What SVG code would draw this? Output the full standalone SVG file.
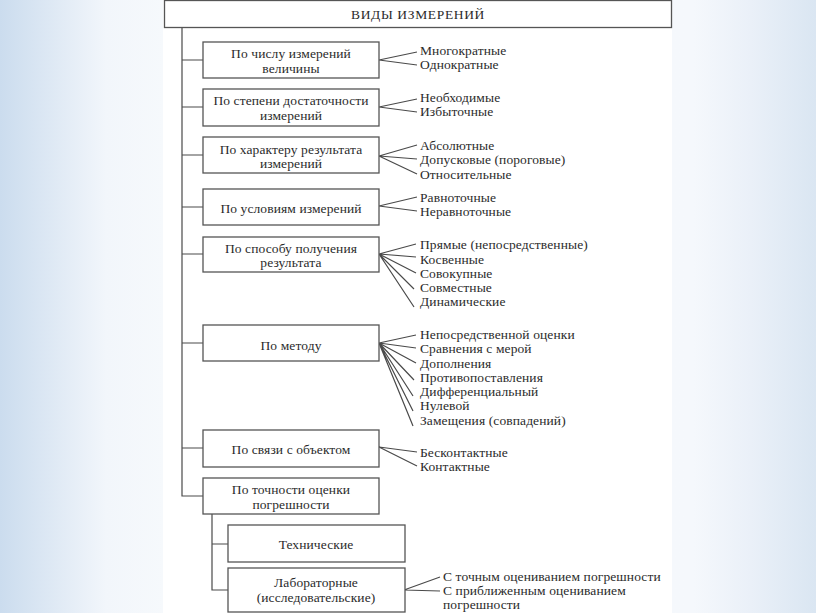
<svg xmlns="http://www.w3.org/2000/svg" width="816" height="613" viewBox="0 0 816 613">
<defs>
<linearGradient id="bg" x1="0" y1="0" x2="1" y2="0">
<stop offset="0" stop-color="#cbdcee"/>
<stop offset="0.13" stop-color="#f2f6fb"/>
<stop offset="0.2" stop-color="#f6f9fc"/>
<stop offset="0.85" stop-color="#f5f8fc"/>
<stop offset="0.92" stop-color="#eaf0f8"/>
<stop offset="1" stop-color="#dae6f2"/>
</linearGradient>
<style>
.box{fill:#fff;stroke:#555;stroke-width:1.3}
.ln{fill:none;stroke:#4a4a4a;stroke-width:1.2}
.t{font-family:'Liberation Serif','DejaVu Serif',serif;font-size:13.5px;fill:#2b2b2b;letter-spacing:0.1px}
.c{text-anchor:middle}
.h{letter-spacing:0.65px}
</style>
</defs>
<rect width="816" height="613" fill="url(#bg)"/>
<rect x="163" y="0" width="509" height="613" fill="#fff"/>

<g id="connectors" class="ln">
<path d="M182,27.5 V496 H203"/>
<path d="M182,60 H203 M182,107 H203 M182,155 H203 M182,207 H203 M182,254 H203 M182,343 H203 M182,448 H203"/>
<path d="M212,514 V590 H228 M212,544 H228"/>
<path d="M379,60 L417,52 M379,60 L417,65"/>
<path d="M379,107 L417,99 M379,107 L417,112"/>
<path d="M379,156 L417,145 M379,156 L417,159 M379,156 L417,174"/>
<path d="M379,206 L417,197 M379,206 L417,211"/>
<path d="M379,254 L416,244 M379,254 L416,257 M379,254 L416,273 M379,254 L414,289 M379,254 L414,307"/>
<path d="M379,343 L416,335 M379,343 L416,348 M379,343 L416,363 M379,343 L414,380 M379,343 L413,396 M379,343 L413,411 M379,343 L413,426"/>
<path d="M379,447 L417,452 M379,447 L417,466"/>
<path d="M404,590 L440,577 M404,590 L440,591"/>
</g>

<g id="root"><rect class="box" x="164.5" y="0.5" width="507" height="27"/><text class="t c h" x="418" y="18.5">ВИДЫ ИЗМЕРЕНИЙ</text></g>

<g id="n1"><rect class="box" x="203" y="42" width="176" height="36"/><text class="t c" x="291" y="57.5">По числу измерений</text><text class="t c" x="291" y="72.5">величины</text></g>
<g id="n1-items"><text class="t" x="420" y="55">Многократные</text><text class="t" x="420" y="69">Однократные</text></g>

<g id="n2"><rect class="box" x="203" y="89" width="176" height="37"/><text class="t c" x="291" y="104.5">По степени достаточности</text><text class="t c" x="291" y="119.5">измерений</text></g>
<g id="n2-items"><text class="t" x="420" y="102">Необходимые</text><text class="t" x="420" y="116">Избыточные</text></g>

<g id="n3"><rect class="box" x="203" y="137" width="176" height="36"/><text class="t c" x="291" y="153.5">По характеру результата</text><text class="t c" x="291" y="167.5">измерений</text></g>
<g id="n3-items"><text class="t" x="420" y="150">Абсолютные</text><text class="t" x="420" y="164">Допусковые (пороговые)</text><text class="t" x="420" y="178.5">Относительные</text></g>

<g id="n4"><rect class="box" x="203" y="189" width="176" height="36"/><text class="t c" x="291" y="212.5">По условиям измерений</text></g>
<g id="n4-items"><text class="t" x="420" y="202">Равноточные</text><text class="t" x="420" y="216">Неравноточные</text></g>

<g id="n5"><rect class="box" x="203" y="237" width="176" height="35"/><text class="t c" x="291" y="252.5">По способу получения</text><text class="t c" x="291" y="266.5">результата</text></g>
<g id="n5-items"><text class="t" x="420" y="249">Прямые (непосредственные)</text><text class="t" x="420" y="263.5">Косвенные</text><text class="t" x="420" y="278">Совокупные</text><text class="t" x="420" y="292">Совместные</text><text class="t" x="420" y="306">Динамические</text></g>

<g id="n6"><rect class="box" x="203" y="325" width="176" height="36"/><text class="t c" x="291" y="349.5">По методу</text></g>
<g id="n6-items"><text class="t" x="420" y="339">Непосредственной оценки</text><text class="t" x="420" y="353">Сравнения с мерой</text><text class="t" x="420" y="367.5">Дополнения</text><text class="t" x="420" y="381.5">Противопоставления</text><text class="t" x="420" y="396">Дифференциальный</text><text class="t" x="420" y="410">Нулевой</text><text class="t" x="420" y="424.5">Замещения (совпадений)</text></g>

<g id="n7"><rect class="box" x="203" y="430" width="176" height="37"/><text class="t c" x="291" y="454">По связи с объектом</text></g>
<g id="n7-items"><text class="t" x="420" y="456.5">Бесконтактные</text><text class="t" x="420" y="470.5">Контактные</text></g>

<g id="n8"><rect class="box" x="203" y="478" width="176" height="36"/><text class="t c" x="291" y="494">По точности оценки</text><text class="t c" x="291" y="508.5">погрешности</text></g>

<g id="n9"><rect class="box" x="228" y="525" width="177" height="37"/><text class="t c" x="316" y="548.5">Технические</text></g>

<g id="n10"><rect class="box" x="228" y="568" width="177" height="44"/><text class="t c" x="316" y="587">Лабораторные</text><text class="t c" x="316" y="602">(исследовательские)</text></g>
<g id="n10-items"><text class="t" x="443" y="581">С точным оцениванием погрешности</text><text class="t" x="443" y="595">С приближенным оцениванием</text><text class="t" x="443" y="609">погрешности</text></g>
</svg>
